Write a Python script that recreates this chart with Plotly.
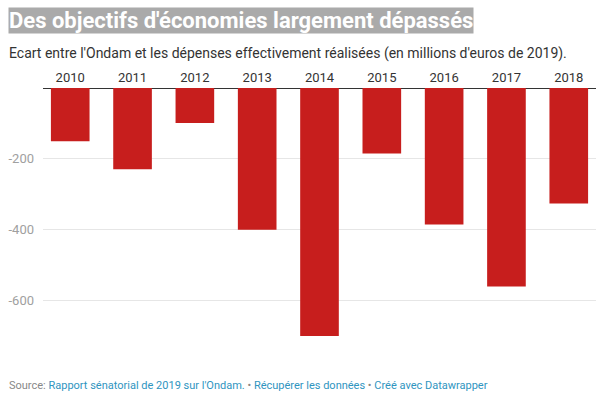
import plotly.graph_objects as go

years = ["2010", "2011", "2012", "2013", "2014", "2015", "2016", "2017", "2018"]
ecart = [-150, -229, -99, -400, -700, -185, -385, -560, -326]
y_ticks = [-200, -400, -600]
y_tick_labels = ["-200", "-400", "-600"]

title = "Des objectifs d'économies largement dépassés"
subtitle = "Ecart entre l'Ondam et les dépenses effectivement réalisées (en millions d'euros de 2019)."

FONT = "Roboto"
L, R, T, B = 43, 7, 88, 61
W, H = 603, 397
PW, PH = W - L - R, H - T - B

def px(x):
    return (x - L) / PW

def py(y):
    return (H - B - y) / PH

fig = go.Figure()
fig.add_trace(go.Bar(
    x=years, y=ecart,
    marker=dict(color="#c71e1d", line=dict(width=0)),
    hoverinfo="x+y",
))

fig.update_layout(
    width=W, height=H,
    margin=dict(l=L, r=R, t=T, b=B, pad=0),
    paper_bgcolor="white", plot_bgcolor="white",
    bargap=0.38,
    showlegend=False,
    font=dict(family=FONT, color="#333333"),
    xaxis=dict(
        side="top", type="category",
        range=[-0.437, 8.437],
        showgrid=False, showline=False, zeroline=False,
        ticks="", tickfont=dict(size=13, color="#333333", family=FONT),
        ticklabelstandoff=2,
    ),
    yaxis=dict(
        range=[-700, 0],
        tickvals=y_ticks, ticktext=y_tick_labels,
        showgrid=True, gridcolor="#e6e6e6", gridwidth=1,
        zeroline=True, zerolinecolor="#333333", zerolinewidth=1,
        showline=False, ticks="",
        tickfont=dict(size=13, color="#a0a0a0", family=FONT),
        ticklabelstandoff=8,
    ),
    annotations=[
        dict(
            text="<b>" + title + "</b>",
            xref="paper", yref="paper", x=px(8), y=py(21),
            xanchor="left", yanchor="middle", showarrow=False,
            font=dict(family=FONT, size=22, color="white"),
            bgcolor="#aaaaaa", borderpad=0,
        ),
        dict(
            text=subtitle,
            xref="paper", yref="paper", x=px(7), y=py(53),
            xanchor="left", yanchor="middle", showarrow=False,
            font=dict(family=FONT, size=14, color="#333333"),
        ),
        dict(
            text=("<span style='color:#888888'>Source: </span>"
                  "<span style='color:#2f95bf'>Rapport sénatorial de 2019 sur l'Ondam.</span>"
                  "<span style='color:#888888'> • </span>"
                  "<span style='color:#2f95bf'>Récupérer les données</span>"
                  "<span style='color:#888888'> • </span>"
                  "<span style='color:#2f95bf'>Créé avec Datawrapper</span>"),
            xref="paper", yref="paper", x=px(7), y=py(385),
            xanchor="left", yanchor="middle", showarrow=False,
            font=dict(family=FONT, size=11, color="#888888"),
        ),
    ],
)

fig.write_html(
    "out.html",
    config={"displayModeBar": False},
    post_script="document.body.style.margin='0';document.body.style.overflow='hidden';",
)
